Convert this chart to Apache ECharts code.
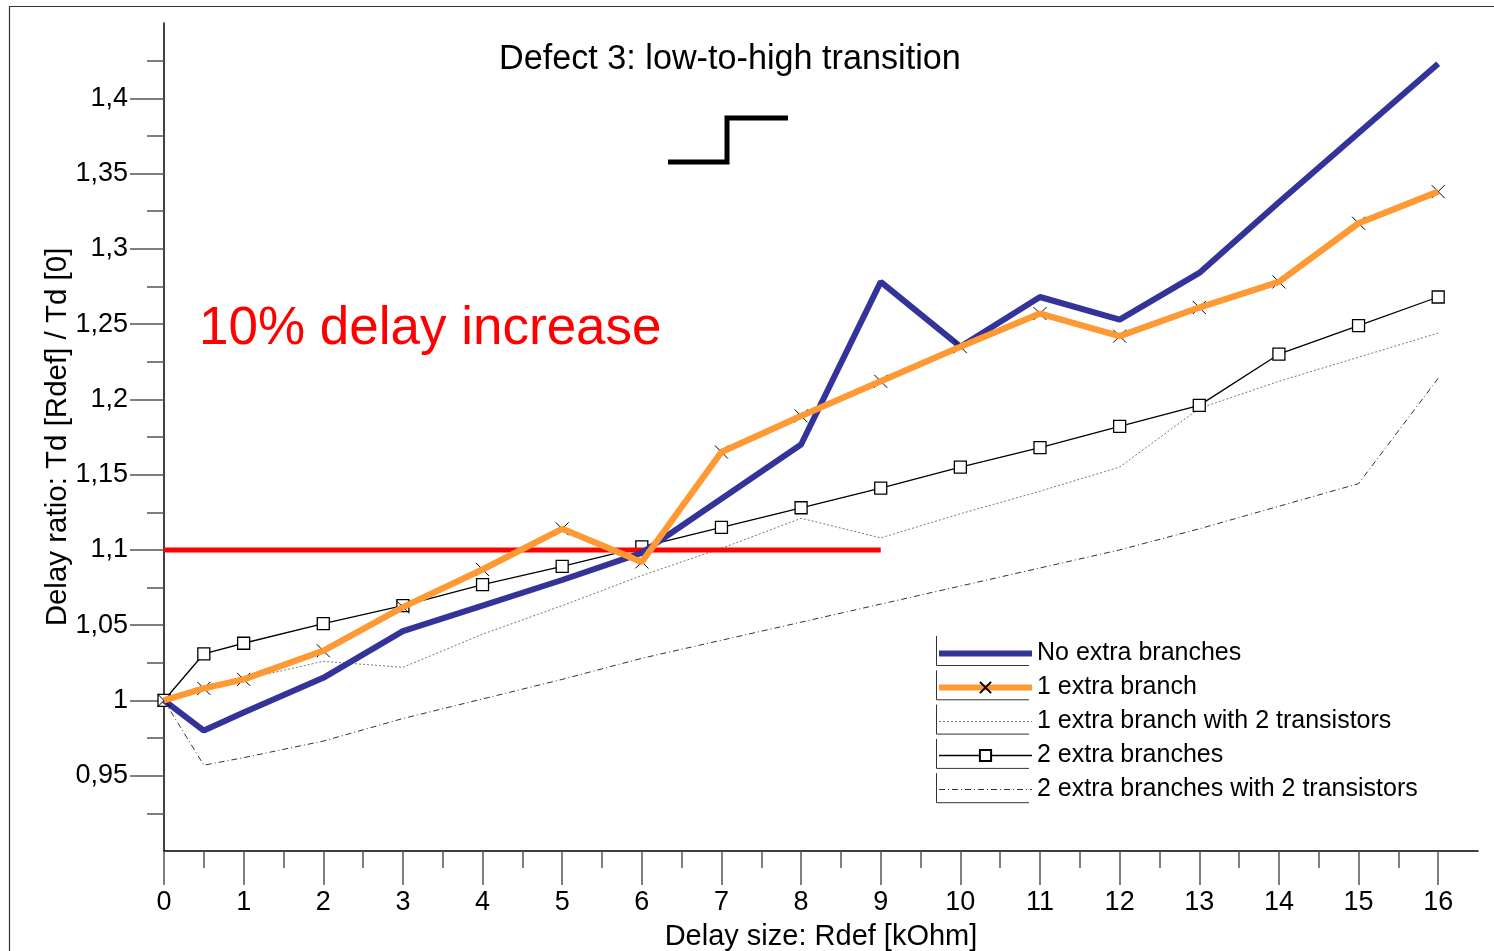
<!DOCTYPE html>
<html>
<head>
<meta charset="utf-8">
<title>Defect 3: low-to-high transition</title>
<script src="https://cdn.jsdelivr.net/npm/echarts@6/dist/echarts.min.js"></script>
<style>
  html, body { margin: 0; padding: 0; background: #fff; }
  #chart { width: 1494px; height: 951px; }
</style>
</head>
<body>
<div id="chart"></div>
<script>
// Defect resistance values (kOhm)
const rdef = [0, 0.5, 1, 2, 3, 4, 5, 6, 7, 8, 9, 10, 11, 12, 13, 14, 15, 16];

// Delay ratio Td[Rdef] / Td[0] for each circuit variant
const noExtraBranches = [1.000, 0.980, 0.992, 1.015, 1.046, 1.063, 1.080, 1.098, 1.134, 1.170, 1.278, 1.235, 1.268, 1.253, 1.284, 1.331, 1.377, 1.423];
const oneExtraBranch = [1.000, 1.008, 1.014, 1.033, 1.062, 1.087, 1.114, 1.092, 1.165, 1.189, 1.212, 1.235, 1.257, 1.242, 1.261, 1.278, 1.317, 1.338];
const oneExtraBranch2T = [1.000, 1.008, 1.014, 1.026, 1.022, 1.044, 1.063, 1.083, 1.101, 1.121, 1.108, 1.124, 1.139, 1.155, 1.194, 1.212, 1.228, 1.244];
const twoExtraBranches = [1.000, 1.031, 1.038, 1.051, 1.063, 1.077, 1.089, 1.102, 1.115, 1.128, 1.141, 1.155, 1.168, 1.182, 1.196, 1.230, 1.249, 1.268];
const twoExtraBranches2T = [1.000, 0.957, 0.962, 0.973, 0.988, 1.001, 1.014, 1.028, 1.040, 1.052, 1.064, 1.076, 1.088, 1.100, 1.114, 1.129, 1.144, 1.214];

// 10% delay increase threshold segment: [rdef, ratio]
const thresholdLine = [[0, 1.1], [9, 1.1]];

const seriesNames = [
  'No extra branches',
  '1 extra branch',
  '1 extra branch with 2 transistors',
  '2 extra branches',
  '2 extra branches with 2 transistors'
];

// Axis ticks and labels
const xMajorTicks = [0, 1, 2, 3, 4, 5, 6, 7, 8, 9, 10, 11, 12, 13, 14, 15, 16];
const xTickLabels = ['0', '1', '2', '3', '4', '5', '6', '7', '8', '9', '10', '11', '12', '13', '14', '15', '16'];
const xMinorTicks = [0.5, 1.5, 2.5, 3.5, 4.5, 5.5, 6.5, 7.5, 8.5, 9.5, 10.5, 11.5, 12.5, 13.5, 14.5, 15.5];
const yMajorTicks = [0.95, 1, 1.05, 1.1, 1.15, 1.2, 1.25, 1.3, 1.35, 1.4];
const yTickLabels = ['0,95', '1', '1,05', '1,1', '1,15', '1,2', '1,25', '1,3', '1,35', '1,4'];
const yMinorTicks = [0.925, 0.975, 1.025, 1.075, 1.125, 1.175, 1.225, 1.275, 1.325, 1.375, 1.425];

const FONT = '"Liberation Sans", Arial, sans-serif';

function pairs(values) {
  return rdef.map((x, i) => [x, values[i]]);
}
function labelFor(ticks, labels) {
  return function (v) {
    const i = ticks.findIndex(t => Math.abs(t - v) < 1e-6);
    return i >= 0 ? labels[i] : '';
  };
}

const chart = echarts.init(document.getElementById('chart'), null, { renderer: 'canvas' });

const xMin = 0, xMax = 16.5, yMin = 0.9, yMax = 1.45;

const crossPath = 'path://M0,0L10,10M10,0L0,10';

// legend entries: series without point markers get an invisible marker
const legendData = seriesNames.map((name, i) => (
  (i === 1 || i === 3) ? { name } : { name, itemStyle: { opacity: 0 } }
));

chart.setOption({
  animation: false,
  backgroundColor: '#ffffff',
  textStyle: { fontFamily: FONT },
  title: {
    text: 'Defect 3: low-to-high transition',
    left: 499,
    top: 43,
    padding: 0,
    textStyle: { fontFamily: FONT, fontSize: 34.2, fontWeight: 'normal', color: '#000' }
  },
  grid: { left: 164, right: 16, top: 23, bottom: 100, containLabel: false, outerBoundsMode: 'none' },
  legend: {
    data: legendData,
    orient: 'vertical',
    left: 936,
    top: 641,
    itemWidth: 93,
    itemHeight: 14,
    itemGap: 9.0,
    padding: 0,
    lineStyle: { width: 'inherit' },
    textStyle: { fontFamily: FONT, fontSize: 25, color: '#000', lineHeight: 24 }
  },
  xAxis: [
    {
      type: 'value', min: xMin, max: xMax, interval: 0.5,
      position: 'bottom',
      name: 'Delay size: Rdef [kOhm]',
      nameLocation: 'middle',
      nameGap: 71,
      nameMoveOverlap: false,
      nameTextStyle: { fontFamily: FONT, fontSize: 29, color: '#000' },
      axisLine: { show: true, lineStyle: { color: '#000', width: 1.5 } },
      axisTick: { show: true, customValues: xMajorTicks, length: 34, lineStyle: { color: '#555', width: 1.5 } },
      axisLabel: { show: true, customValues: xMajorTicks, margin: 38, formatter: labelFor(xMajorTicks, xTickLabels), fontFamily: FONT, fontSize: 27, color: '#000' },
      splitLine: { show: false }
    },
    {
      type: 'value', min: xMin, max: xMax, interval: 0.5,
      position: 'bottom', offset: 0,
      axisLine: { show: false },
      axisTick: { show: true, customValues: xMinorTicks, length: 17, lineStyle: { color: '#555', width: 1.5 } },
      axisLabel: { show: false },
      splitLine: { show: false }
    }
  ],
  yAxis: [
    {
      type: 'value', min: yMin, max: yMax, interval: 0.05,
      position: 'left',
      name: 'Delay ratio: Td [Rdef] / Td [0]',
      nameLocation: 'middle',
      nameGap: 91,
      nameMoveOverlap: false,
      nameTextStyle: { fontFamily: FONT, fontSize: 29.5, color: '#000' },
      axisLine: { show: true, lineStyle: { color: '#000', width: 1.5 } },
      axisTick: { show: true, customValues: yMajorTicks, length: 34, lineStyle: { color: '#555', width: 1.5 } },
      axisLabel: { show: true, customValues: yMajorTicks, margin: 36, formatter: labelFor(yMajorTicks, yTickLabels), fontFamily: FONT, fontSize: 27, color: '#000' },
      splitLine: { show: false }
    },
    {
      type: 'value', min: yMin, max: yMax, interval: 0.05,
      position: 'left', offset: 0,
      axisLine: { show: false },
      axisTick: { show: true, customValues: yMinorTicks, length: 17, lineStyle: { color: '#555', width: 1.5 } },
      axisLabel: { show: false },
      splitLine: { show: false }
    }
  ],
  series: [
    {
      name: seriesNames[4], type: 'line', data: pairs(twoExtraBranches2T), z: 2,
      symbol: 'none',
      lineStyle: { color: '#333', width: 1, type: [6, 3, 1, 3] },
      itemStyle: { color: '#333' }
    },
    {
      name: seriesNames[2], type: 'line', data: pairs(oneExtraBranch2T), z: 2,
      symbol: 'none',
      lineStyle: { color: '#777', width: 1, type: [2, 2] },
      itemStyle: { color: '#777' }
    },
    {
      name: seriesNames[3], type: 'line', data: pairs(twoExtraBranches), z: 3,
      symbol: 'rect', symbolSize: 12,
      lineStyle: { color: '#000', width: 1.3 },
      itemStyle: { color: '#fff', borderColor: '#000', borderWidth: 1.3 }
    },
    {
      name: 'threshold', type: 'line', data: thresholdLine, z: 4,
      symbol: 'none',
      lineStyle: { color: '#ff0000', width: 5 }
    },
    {
      name: seriesNames[0], type: 'line', data: pairs(noExtraBranches), z: 5,
      symbol: 'none',
      lineStyle: { color: '#333399', width: 6 },
      itemStyle: { color: '#333399' }
    },
    {
      name: seriesNames[1], type: 'line', data: pairs(oneExtraBranch), z: 6,
      symbol: crossPath, symbolSize: 13, showAllSymbol: true,
      lineStyle: { color: '#ff9933', width: 6 },
      itemStyle: { color: 'none', borderColor: '#000', borderWidth: 1 }
    },
    {
      // orange stroke laid over the cross markers so they only peek out
      name: 'oneExtraBranchStroke', type: 'line', data: pairs(oneExtraBranch), z: 7,
      symbol: 'none', silent: true,
      lineStyle: { color: '#ff9933', width: 6 }
    }
  ],
  graphic: {
    elements: [
      {
        // outer frame
        type: 'rect', silent: true,
        shape: { x: 9.5, y: 6.5, width: 1600, height: 1000 },
        style: { fill: 'none', stroke: '#333', lineWidth: 1.2 }
      },
      {
        // rising-edge glyph
        type: 'polyline', silent: true,
        shape: { points: [[668, 162], [727, 162], [727, 118], [788, 118]] },
        style: { fill: 'none', stroke: '#000', lineWidth: 5, lineJoin: 'miter' }
      },
      {
        type: 'text', silent: true, left: 199, top: 303,
        style: { text: '10% delay increase', fill: '#ff0000', font: '53px ' + FONT }
      }
    ].concat([0, 1, 2, 3, 4].map(i => ({
      // bracket beside each legend sample
      type: 'polyline', silent: true,
      shape: { points: [[936.5, 636 + i * 34.3], [936.5, 665.5 + i * 34.3], [1029, 665.5 + i * 34.3]] },
      style: { fill: 'none', stroke: '#333', lineWidth: 1 }
    })))
  }
});
</script>
</body>
</html>
